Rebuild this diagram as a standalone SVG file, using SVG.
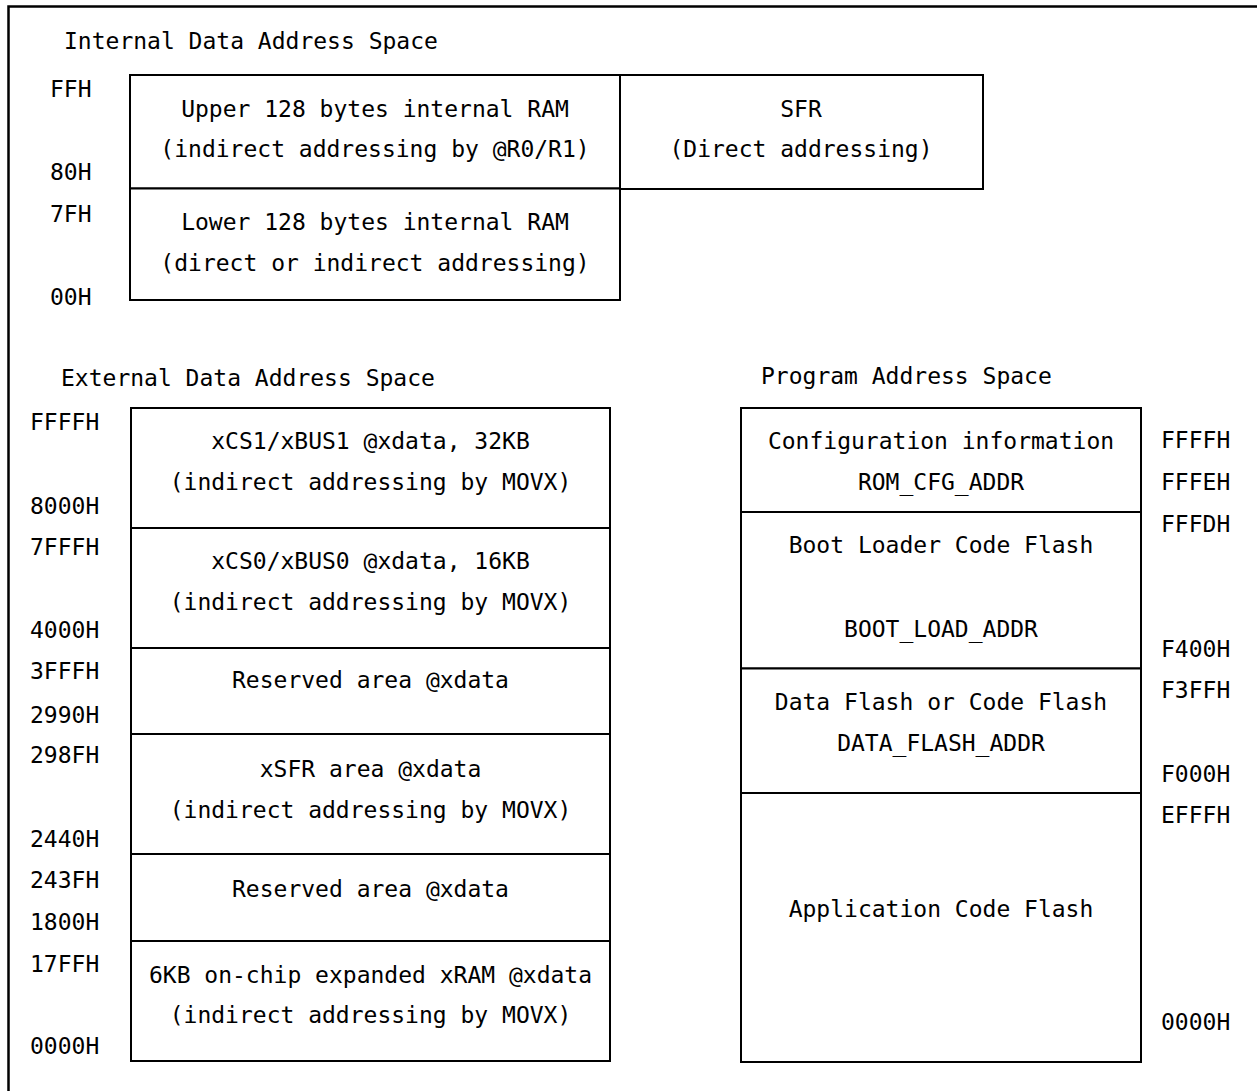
<svg xmlns="http://www.w3.org/2000/svg" width="1257" height="1091" viewBox="0 0 1257 1091">
<style>
text{font-family:"DejaVu Sans Mono","Liberation Mono",monospace;font-size:23px;fill:#000}
.c{text-anchor:middle}
.box{fill:#fff;stroke:#000;stroke-width:2}
.frame{fill:none;stroke:#000;stroke-width:2.5}
</style>
<rect width="1257" height="1091" fill="#fff"/>
<g id="frame"><path class="frame" d="M8.5,1091 V6.5 H1257"/></g>

<g id="titles">
<text x="64" y="49">Internal Data Address Space</text>
<text x="61" y="386">External Data Address Space</text>
<text x="761" y="384">Program Address Space</text>
</g>

<g id="internal-labels">
<text x="50" y="97">FFH</text>
<text x="50" y="180">80H</text>
<text x="50" y="222">7FH</text>
<text x="50" y="305">00H</text>
</g>

<g id="upper-ram">
<rect class="box" x="130" y="75" width="490" height="113.5"/>
<text class="c" x="375" y="117">Upper 128 bytes internal RAM</text>
<text class="c" x="375" y="157">(indirect addressing by @R0/R1)</text>
</g>
<g id="lower-ram">
<rect class="box" x="130" y="188.5" width="490" height="111.5"/>
<text class="c" x="375" y="230">Lower 128 bytes internal RAM</text>
<text class="c" x="375" y="271">(direct or indirect addressing)</text>
</g>
<g id="sfr">
<rect class="box" x="620" y="75" width="363" height="114"/>
<text class="c" x="801" y="117">SFR</text>
<text class="c" x="801" y="157">(Direct addressing)</text>
</g>

<g id="external-labels">
<text x="30" y="430">FFFFH</text>
<text x="30" y="514">8000H</text>
<text x="30" y="555">7FFFH</text>
<text x="30" y="638">4000H</text>
<text x="30" y="679">3FFFH</text>
<text x="30" y="723">2990H</text>
<text x="30" y="763">298FH</text>
<text x="30" y="847">2440H</text>
<text x="30" y="888">243FH</text>
<text x="30" y="930">1800H</text>
<text x="30" y="972">17FFH</text>
<text x="30" y="1054">0000H</text>
</g>

<g id="xbus1">
<rect class="box" x="131" y="408" width="479" height="120"/>
<text class="c" x="370.5" y="449">xCS1/xBUS1 @xdata, 32KB</text>
<text class="c" x="370.5" y="490">(indirect addressing by MOVX)</text>
</g>
<g id="xbus0">
<rect class="box" x="131" y="528" width="479" height="120"/>
<text class="c" x="370.5" y="569">xCS0/xBUS0 @xdata, 16KB</text>
<text class="c" x="370.5" y="610">(indirect addressing by MOVX)</text>
</g>
<g id="reserved1">
<rect class="box" x="131" y="648" width="479" height="86"/>
<text class="c" x="370.5" y="688">Reserved area @xdata</text>
</g>
<g id="xsfr">
<rect class="box" x="131" y="734" width="479" height="120"/>
<text class="c" x="370.5" y="777">xSFR area @xdata</text>
<text class="c" x="370.5" y="818">(indirect addressing by MOVX)</text>
</g>
<g id="reserved2">
<rect class="box" x="131" y="854" width="479" height="87"/>
<text class="c" x="370.5" y="897">Reserved area @xdata</text>
</g>
<g id="xram">
<rect class="box" x="131" y="941" width="479" height="120"/>
<text class="c" x="370.5" y="983">6KB on-chip expanded xRAM @xdata</text>
<text class="c" x="370.5" y="1023">(indirect addressing by MOVX)</text>
</g>

<g id="program-labels">
<text x="1161" y="448">FFFFH</text>
<text x="1161" y="490">FFFEH</text>
<text x="1161" y="532">FFFDH</text>
<text x="1161" y="657">F400H</text>
<text x="1161" y="698">F3FFH</text>
<text x="1161" y="782">F000H</text>
<text x="1161" y="823">EFFFH</text>
<text x="1161" y="1030">0000H</text>
</g>

<g id="config">
<rect class="box" x="741" y="408" width="400" height="104"/>
<text class="c" x="941" y="449">Configuration information</text>
<text class="c" x="941" y="490">ROM_CFG_ADDR</text>
</g>
<g id="boot">
<rect class="box" x="741" y="512" width="400" height="156.5"/>
<text class="c" x="941" y="553">Boot Loader Code Flash</text>
<text class="c" x="941" y="637">BOOT_LOAD_ADDR</text>
</g>
<g id="dataflash">
<rect class="box" x="741" y="668.5" width="400" height="124.5"/>
<text class="c" x="941" y="710">Data Flash or Code Flash</text>
<text class="c" x="941" y="751">DATA_FLASH_ADDR</text>
</g>
<g id="appflash">
<rect class="box" x="741" y="793" width="400" height="269"/>
<text class="c" x="941" y="917">Application Code Flash</text>
</g>

<g id="connectors"></g>
</svg>
